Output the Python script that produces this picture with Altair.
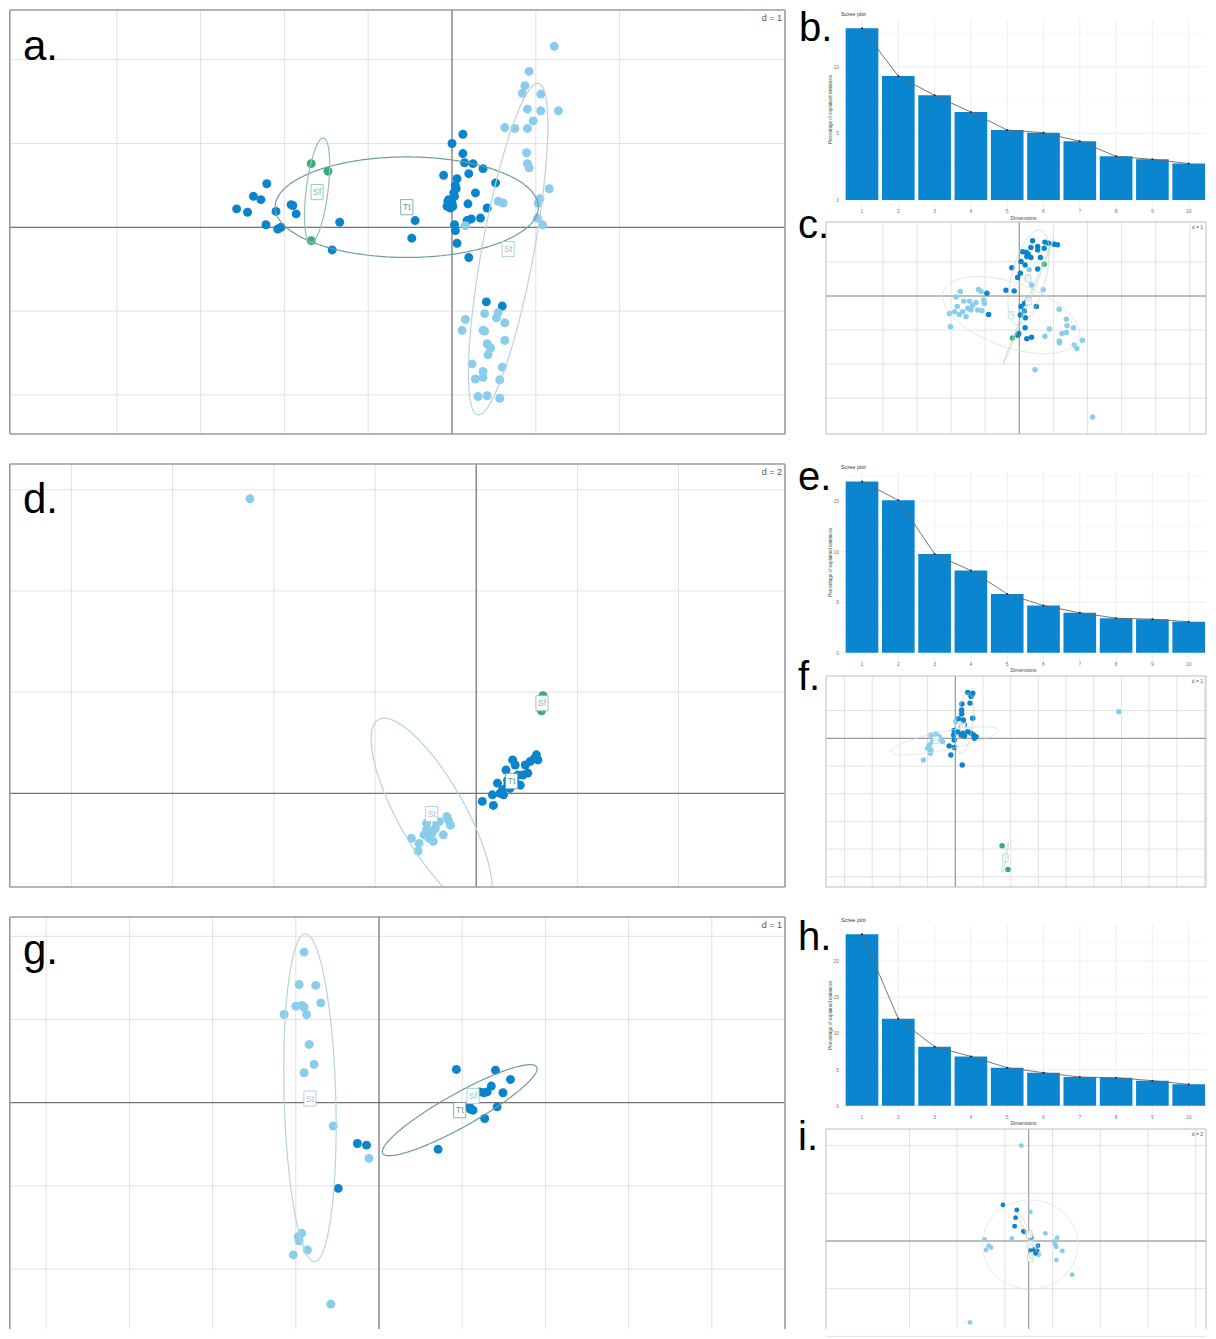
import numpy as np
import pandas as pd
import altair as alt

FONT = "Liberation Sans"
DARK = "#0a84cc"
LIGHT = "#89cdec"
GREEN = "#35ad77"
TT_E = "#6f9c9e"
ST_E = "#b7d4db"
SF_E = "#92c2b0"
TT_L = "#6f9c9e"
ST_L = "#9fc7d2"
SF_L = "#86b8a4"
GRIDC = "#e2e2e2"
BAR = "#0a86d1"
BOX = "M-0.8,-1L0.8,-1L0.8,1L-0.8,1Z"
W, H = 1198, 1321   # drawing canvas (page pixels 8..1206, 8..1329)

# ---------------- panel a ----------------
A_TT_X = [-2.57, -2.44, -2.37, -2.28, -2.21, -2.10, -2.22, -2.08, -2.04, -1.92, -1.90, -1.86, -1.34, -1.43,
          -0.44, -0.48, 0.00, 0.13, 0.13, 0.15, 0.25, 0.37, 0.20, -0.10, 0.06, 0.04, 0.02, 0.28, 0.52, -0.04,
          0.00, -0.02, 0.19, 0.42, 0.34, 0.23, 0.18, 0.03, 0.04, 0.06, 0.20, 0.41, 0.60, -0.06, 0.01, -0.05, 0.03, 0.05]
A_TT_Y = [0.22, 0.18, 0.37, 0.33, 0.52, 0.19, 0.03, -0.02, 0.00, 0.27, 0.26, 0.16, 0.06, -0.27,
          0.08, -0.13, 1.00, 1.11, 0.88, 0.77, 0.76, 0.70, 0.64, 0.62, 0.58, 0.50, 0.41, 0.41, 0.53, 0.33,
          0.29, 0.23, 0.28, 0.23, 0.11, 0.10, 0.08, 0.03, -0.04, -0.19, -0.36, -0.89, -0.94, 0.25, 0.25, 0.31, 0.37, 0.46]
A_ST_X = [1.22, 0.92, 0.87, 0.84, 1.06, 0.90, 1.06, 1.27, 0.97, 0.63, 0.75, 0.90, 0.89, 0.90, 0.92, 1.16, 1.05,
          1.03, 0.55, 0.61, 1.02, 1.08, 0.16,
          0.16, 0.12, 0.39, 0.55, 0.53, 0.63, 0.37, 0.39, 0.63, 0.42, 0.46, 0.43, 0.24, 0.60, 0.37, 0.28, 0.37,
          0.57, 0.31, 0.42, 0.57]
A_ST_Y = [2.16, 1.86, 1.69, 1.60, 1.59, 1.41, 1.39, 1.39, 1.27, 1.19, 1.18, 1.18, 0.89, 0.76, 0.71, 0.46, 0.34,
          0.29, 0.31, 0.29, 0.11, 0.03, 0.02,
          -1.10, -1.23, -1.03, -1.02, -1.08, -1.14, -1.23, -1.24, -1.35, -1.39, -1.44, -1.52, -1.63, -1.67, -1.72,
          -1.81, -1.79, -1.82, -2.02, -2.01, -2.04]
A_SF_X = [-1.68, -1.48, -1.68]
A_SF_Y = [0.76, 0.67, -0.16]
A_ELL = [(-0.54, 0.24, 1.57, 0.60, 0, TT_E), (-1.61, 0.44, 0.63, 0.13, 83, SF_E), (0.67, -0.26, 2.01, 0.31, 79.6, ST_E)]
A_LAB = [("Tt", -0.54, 0.24, TT_L), ("Sf", -1.61, 0.42, SF_L), ("St", 0.67, -0.26, ST_L)]

# ---------------- panel d ----------------
D_ST_X = [-4.47, -1.28, -1.13, -1.15, -1.03, -0.98, -0.93, -0.88, -0.81, -0.78, -0.73, -0.65, -0.58, -0.55, -0.51, -0.85, -0.98, -0.83]
D_ST_Y = [5.82, -0.89, -0.99, -1.14, -0.82, -0.72, -0.89, -0.79, -0.69, -0.59, -0.56, -0.82, -0.46, -0.53, -0.63, -0.95, -0.59, -0.72]
D_TT_X = [0.12, 0.34, 0.32, 0.42, 0.47, 0.54, 0.59, 0.62, 0.67, 0.72, 0.77, 0.82, 0.92, 0.97, 1.02, 1.07, 1.15, 1.19, 1.22, 0.62, 0.52, 0.87, 0.77]
D_TT_Y = [-0.16, -0.24, -0.03, 0.20, 0.00, -0.03, 0.46, 0.26, 0.10, 0.66, 0.56, 0.36, 0.36, 0.56, 0.40, 0.63, 0.69, 0.76, 0.66, 0.16, 0.07, 0.16, 0.23]
D_SF_X = [1.32, 1.29]
D_SF_Y = [1.93, 1.63]
D_ELL = [(-0.88, -0.41, 2.14, 0.66, 119.4, ST_E), (1.30, 1.78, 0.16, 0.02, 90, SF_E)]
D_LAB = [("Sf", 1.30, 1.78, SF_L), ("Tt", 0.70, 0.24, TT_L), ("St", -0.88, -0.41, ST_L)]

# ---------------- panel g ----------------
G_ST_X = [-0.90, -0.96, -0.76, -1.00, -0.93, -0.90, -0.70, -1.14, -0.87, -0.84, -0.78, -0.90, -0.55, -0.12, -0.93, -0.97, -0.96, -0.86, -1.03, -0.58]
G_ST_Y = [1.81, 1.42, 1.41, 1.16, 1.17, 1.15, 1.20, 1.06, 1.06, 0.70, 0.46, 0.36, -0.28, -0.67, -1.57, -1.61, -1.66, -1.77, -1.83, -2.42]
G_TT_X = [0.93, 1.40, 1.58, 1.35, 1.30, 1.26, 1.49, 1.21, 1.09, 1.13, 1.42, 1.27, 0.71, -0.26, -0.15, -0.49, 1.10]
G_TT_Y = [0.40, 0.39, 0.28, 0.20, 0.13, 0.12, 0.12, 0.13, -0.05, -0.09, -0.05, -0.19, -0.56, -0.49, -0.51, -1.03, -0.08]
G_ELL = [(-0.83, 0.06, 1.97, 0.31, 91.6, ST_E), (0.97, -0.09, 1.06, 0.20, 29.3, TT_E)]
G_LAB = [("St", -0.83, 0.05, ST_L), ("Sf", 1.13, 0.08, ST_L), ("Tt", 0.97, -0.09, TT_L)]

# ---------------- panel c ----------------
C_TT_X = [0.39, 0.75, 0.86, 1.02, 1.12, 0.54, 0.34, 0.73, 0.54, 0.10, 0.20, 0.26, 0.22, 0.34, 0.62, 0.05, 0.17, -0.22,
          0.54, 0.03, -0.05, -0.39, -0.15, 0.24, 0.15, 0.05, 0.50, 0.15, 0.03, 0.18, -0.90, -0.95, 0.17, -0.02, -0.05, 0.22, 0.36]
C_TT_Y = [1.62, 1.58, 1.55, 1.52, 1.50, 1.45, 1.42, 1.40, 1.35, 1.30, 1.28, 1.23, 1.16, 1.13, 1.13, 1.01, 0.91, 0.83,
          0.79, 0.67, 0.54, 0.17, 0.15, -0.12, -0.22, -0.31, -0.31, -0.44, -0.56, -0.64, -0.54, 0.08, -0.93, -1.10, -1.15, -1.25, -1.21]
C_ST_X = [-1.73, -1.20, -1.12, -1.85, -1.63, -1.46, -1.27, -1.04, -1.02, -1.37, -1.51, -1.42, -1.22, -1.10, -1.82, -1.66,
          -2.05, -1.90, -1.76, -1.56, -2.02, 0.70, 0.29, 1.17, 1.38, 1.40, 1.25, 1.38, 1.59, 0.88, 0.75, 1.17, 1.18, 1.61,
          1.69, 1.85, 0.46, 2.15, 0.24, 0.36]
C_ST_Y = [0.13, 0.19, 0.13, -0.03, -0.15, -0.15, -0.19, -0.12, -0.22, -0.28, -0.36, -0.41, -0.41, -0.43, -0.31, -0.46,
          -0.51, -0.46, -0.54, -0.61, -0.90, 0.18, 0.77, -0.39, -0.68, -0.87, -1.10, -1.07, -0.93, -0.97, -1.18, -1.32,
          -1.37, -1.44, -1.54, -1.30, -2.16, -3.55, 0.52, 0.32]
C_SF_X = [0.73, -0.20]
C_SF_Y = [0.93, -1.23]
C_ELL = [(0.27, 0.54, 1.44, 0.50, 75.5, "#c4d2d2"), (-0.24, -0.56, 2.10, 0.94, 160.5, "#d3dfe1"), (0.27, -0.15, 1.97, 0.03, 68, "#a9dcbf")]
C_LAB = [("Tt", 0.26, 0.52, "#b9cccc"), ("Sf", 0.27, -0.15, "#b9dcc8"), ("St", -0.24, -0.56, "#c5dadf")]

# ---------------- panel f ----------------
F_TT_X = [0.45, 0.63, 0.57, 0.53, 0.24, 0.23, 0.23, 0.11, 0.29, 0.63, 0.33, -0.04, 0.08, 0.27, 0.45, 0.57, 0.66, 0.75,
          0.69, -0.06, 0.21, 0.33, -0.04, -0.22, -0.04, -0.16, 0.25]
F_TT_Y = [1.65, 1.63, 1.51, 1.27, 1.24, 1.02, 0.88, 0.71, 0.66, 0.72, 0.48, 0.28, 0.24, 0.18, 0.24, 0.18, 0.12, 0.06,
          0.00, 0.12, 0.12, 0.08, -0.06, -0.28, -0.33, -0.60, -0.96]
F_ST_X = [-0.88, -0.76, -0.64, -0.82, -0.94, -1.00, -0.88, -0.90, -1.15, -0.46, 5.90, 0.02, 0.21, -0.70, -0.58]
F_ST_Y = [0.12, 0.06, -0.06, -0.12, -0.24, -0.36, -0.42, -0.54, -0.78, -0.12, 0.96, 0.60, 0.42, 0.16, 0.06]
F_SF_X = [1.69, 1.90]
F_SF_Y = [-3.88, -4.74]
F_ELL = [(0.33, 0.54, 1.10, 0.30, 82, "#c4d2d2"), (-0.40, -0.09, 1.97, 0.33, 11.5, "#d3dfe1"), (1.80, -4.31, 0.55, 0.04, 78, "#a9dcbf")]
F_LAB = [("Tt", 0.27, 0.42, "#b9cccc"), ("St", -0.70, -0.06, "#c5dadf"), ("Sf", 1.81, -4.31, "#b9dcc8")]

# ---------------- panel i ----------------
I_ST_X = [-0.31, 0.07, 0.70, 1.19, 1.08, 1.12, 1.15, 1.41, 1.16, 1.82, -0.71, -1.86, -1.68, -1.58, -1.79, -2.46, -0.18, 0.41]
I_ST_Y = [4.00, 1.23, 0.32, 0.14, -0.03, -0.14, -0.24, -0.42, -0.80, -1.41, 0.11, 0.07, -0.20, -0.27, -0.38, -3.41, 0.36, -0.59]
I_TT_X = [-1.08, -0.50, -0.55, -0.59, -0.22, 0.11, 0.39, 0.10, 0.35, 0.28, 0.20]
I_TT_Y = [1.51, 1.30, 0.98, 0.62, 0.41, 0.15, -0.20, -0.38, -0.42, -0.52, -0.34]
I_ELL = [(0.06, -0.15, 2.0, 1.87, 0, "#d9e3e3"), (0.03, 0.27, 1.02, 0.10, 119, "#c4d2d2")]
I_LAB = [("Tt", 0.03, 0.27, "#b9cccc"), ("St", 0.06, -0.15, "#c5dadf"), ("Sf", 0.07, -0.70, "#b9dcc8")]

# ---------------- scree plots ----------------
DIMS = [1, 2, 3, 4, 5, 6, 7, 8, 9, 10]
B_VALS = [12.88, 9.30, 7.85, 6.60, 5.25, 5.05, 4.40, 3.28, 3.05, 2.73]
B_TICKS = [0, 5, 10]
E_VALS = [16.95, 15.10, 9.77, 8.13, 5.82, 4.67, 3.95, 3.42, 3.32, 3.06]
E_TICKS = [0, 5, 10, 15]
H_VALS = [23.73, 12.03, 8.16, 6.82, 5.25, 4.56, 3.96, 3.87, 3.46, 2.95]
H_TICKS = [0, 5, 10, 15, 20]

# scatter layout (page px): frame left, top, right, bottom, origin x, origin y, px per unit, bottom cut
GEO_A = (8.8, 10, 784, 434, 451, 227.3, 83.8, False)
GEO_D = (8.8, 464, 784, 887, 475.2, 793.3, 50.6, False)
GEO_G = (8.8, 917, 784, 1329, 378, 1102.7, 83.2, True)
GEO_C = (825, 222, 1205, 434, 1018.3, 296, 34.1, False)
GEO_F = (825, 676, 1205, 887, 954.3, 738.3, 27.7, False)
GEO_I = (825, 1129, 1205, 1329, 1027.7, 1241, 23.85, True)
# scree layout (page px): panel left, panel top, panel right, baseline, px per %, dim-1 centre, px per dim
GEO_B = (840, 19, 1205, 200, 13.33, 861, 36.3)
GEO_E = (840, 472, 1205, 652.7, 10.1, 861, 36.3)
GEO_H = (840, 925, 1205, 1105.7, 7.23, 861, 36.3)


def P(v):
    return v - 8


def ellipse_df(ells, fr):
    fx0, fx1, fyb, fyt = fr
    rows = []
    t = np.linspace(0, 2 * np.pi, 361)
    gid = 0
    for cx, cy, A, B, th, col in ells:
        r = np.deg2rad(th)
        ex = cx + A * np.cos(t) * np.cos(r) - B * np.sin(t) * np.sin(r)
        ey = cy + A * np.cos(t) * np.sin(r) + B * np.sin(t) * np.cos(r)
        inside = (ex >= fx0) & (ex <= fx1) & (ey >= fyb) & (ey <= fyt)
        prev = False
        for j in range(len(t)):
            if inside[j]:
                if not prev:
                    gid += 1
                rows.append({"x": float(ex[j]), "y": float(ey[j]), "g": gid, "o": j, "c": col})
            prev = bool(inside[j])
    return pd.DataFrame(rows)


def text_layer(txt, x, y, size, color="black", align="left", baseline="alphabetic", angle=0):
    return alt.Chart(pd.DataFrame({"t": [txt]})).mark_text(
        font=FONT, fontSize=size, color=color, align=align, baseline=baseline, angle=angle
    ).encode(x=alt.value(P(x)), y=alt.value(P(y)), text="t:N")


def scatter_panel(geo, groups, ells, labs, gx, gy, big, dtxt, letter, lpos, pt):
    left, top, right, bottom, x0, y0, ppu, cut = geo
    xs = alt.Scale(domain=[(8 - x0) / ppu, (8 + W - x0) / ppu], nice=False, zero=False)
    ys = alt.Scale(domain=[(y0 - 8 - H) / ppu, (y0 - 8) / ppu], nice=False, zero=False)
    fx0, fx1 = (left - x0) / ppu, (right - x0) / ppu
    fyt, fyb = (y0 - top) / ppu, (y0 - bottom) / ppu

    def X(f):
        return alt.X(f, type="quantitative", scale=xs, axis=None)

    def Y(f):
        return alt.Y(f, type="quantitative", scale=ys, axis=None)

    if big:
        ew, bs, fs, dfs, axc, lfs, fc, fw = 1.2, 230, 9, 9, "#5a5a5a", 42, "#9b9b9b", 1.6
    else:
        ew, bs, fs, dfs, axc, lfs, fc, fw = 0.8, 50, 4.5, 5, "#8a8a8a", 40, "#bdbdbd", 1.0
    vgrid = pd.DataFrame({"v": gx, "y1": fyb, "y2": fyt})
    hgrid = pd.DataFrame({"v": gy, "x1": fx0, "x2": fx1})
    vax = pd.DataFrame({"v": [0.0], "y1": fyb, "y2": fyt})
    hax = pd.DataFrame({"v": [0.0], "x1": fx0, "x2": fx1})
    segs = [(fx0, fx1, fyt, fyt), (fx0, fx0, fyb, fyt), (fx1, fx1, fyb, fyt)]
    if not cut:
        segs.append((fx0, fx1, fyb, fyb))
    frame = pd.DataFrame(segs, columns=["x1", "x2", "y1", "y2"])
    layers = [
        alt.Chart(pd.DataFrame({"x1": [fx0], "x2": [fx1], "y1": [fyb], "y2": [fyt]})).mark_rect(color="white").encode(
            x=X("x1"), x2="x2", y=Y("y1"), y2="y2"),
        alt.Chart(vgrid).mark_rule(color=GRIDC, strokeWidth=1).encode(x=X("v"), y=Y("y1"), y2="y2"),
        alt.Chart(hgrid).mark_rule(color=GRIDC, strokeWidth=1).encode(y=Y("v"), x=X("x1"), x2="x2"),
        alt.Chart(vax).mark_rule(color=axc, strokeWidth=1).encode(x=X("v"), y=Y("y1"), y2="y2"),
        alt.Chart(hax).mark_rule(color=axc, strokeWidth=1).encode(y=Y("v"), x=X("x1"), x2="x2"),
    ]
    pts = pd.concat([pd.DataFrame({"x": gxs, "y": gys, "c": col}) for gxs, gys, col in groups], ignore_index=True)
    layers.append(alt.Chart(pts).mark_circle(size=pt, opacity=1).encode(
        x=X("x"), y=Y("y"), color=alt.Color("c:N", scale=None)))
    layers.append(alt.Chart(ellipse_df(ells, (fx0, fx1, fyb, fyt))).mark_line(strokeWidth=ew).encode(
        x=X("x"), y=Y("y"), detail="g:N", order="o:Q", color=alt.Color("c:N", scale=None)))
    lab = pd.DataFrame(labs, columns=["t", "x", "y", "c"])
    layers.append(alt.Chart(lab).mark_point(shape=BOX, filled=True, size=bs, strokeWidth=0.8, opacity=1).encode(
        x=X("x"), y=Y("y"), color=alt.value("white"), stroke=alt.Stroke("c:N", scale=None)))
    layers.append(alt.Chart(lab).mark_text(font=FONT, fontSize=fs).encode(
        x=X("x"), y=Y("y"), text="t:N", color=alt.Color("c:N", scale=None)))
    layers.append(alt.Chart(frame).mark_rule(color=fc, strokeWidth=fw).encode(
        x=X("x1"), x2="x2", y=Y("y1"), y2="y2"))
    layers.append(text_layer(dtxt, right - 3, top + (8 if big else 5), dfs, color="#555", align="right",
                             baseline="middle"))
    layers.append(text_layer(letter, lpos[0], lpos[1], lfs))
    return alt.layer(*layers)


def scree_panel(geo, vals, ticks, letter, lpos):
    pleft, ptop, pright, base, ppy, x1, ppx = geo
    xs = alt.Scale(domain=[1 + (8 - x1) / ppx, 1 + (8 + W - x1) / ppx], nice=False, zero=False)
    ys = alt.Scale(domain=[-(8 + H - base) / ppy, (base - 8) / ppy], nice=False, zero=False)

    def X(f):
        return alt.X(f, type="quantitative", scale=xs, axis=None)

    def Y(f):
        return alt.Y(f, type="quantitative", scale=ys, axis=None)

    ymax = (base - ptop) / ppy
    ymin = -9 / ppy
    xl, xr = 1 + (pleft - x1) / ppx, 1 + (pright - x1) / ppx
    df = pd.DataFrame({"d": DIMS, "v": vals})
    df["lo"] = df["d"] - 0.45
    df["hi"] = df["d"] + 0.45
    df["z"] = 0.0
    df["y1"] = ymin
    df["y2"] = ymax
    df["lab"] = [str(d) for d in DIMS]
    step = ticks[1] - ticks[0]
    minor = [t + step / 2 for t in ticks if t + step / 2 <= ymax]
    tk = pd.DataFrame({"v": ticks, "lab": [str(t) for t in ticks], "x1": xl, "x2": xr})
    mn = pd.DataFrame({"v": minor, "x1": xl, "x2": xr})
    layers = [
        alt.Chart(df).mark_rule(color="#ebebeb", strokeWidth=0.8).encode(x=X("d"), y=Y("y1"), y2="y2"),
        alt.Chart(mn).mark_rule(color="#f3f3f3", strokeWidth=0.6).encode(y=Y("v"), x=X("x1"), x2="x2"),
        alt.Chart(tk).mark_rule(color="#ebebeb", strokeWidth=0.8).encode(y=Y("v"), x=X("x1"), x2="x2"),
        alt.Chart(df).mark_bar(color=BAR).encode(x=X("lo"), x2="hi", y=Y("v"), y2="z"),
        alt.Chart(df).mark_line(color="#666666", strokeWidth=0.9).encode(x=X("d"), y=Y("v")),
        alt.Chart(df).mark_circle(size=4, color="#222222", opacity=1).encode(x=X("d"), y=Y("v")),
        alt.Chart(tk).mark_text(font=FONT, fontSize=5, color="#777", align="right", baseline="middle").encode(
            x=alt.value(P(pleft - 2)), y=Y("v"), text="lab:N"),
        alt.Chart(df).mark_text(font=FONT, fontSize=5, color="#777", baseline="middle").encode(
            x=X("d"), y=alt.value(P(base + 11)), text="lab:N"),
        text_layer("Dimensions", (pleft + pright) / 2, base + 17.5, 5, color="#444", align="center", baseline="middle"),
        text_layer("Percentage of explained variances", pleft - 10, (ptop + base) / 2, 4.5, color="#444",
                   align="center", baseline="middle", angle=270),
        text_layer("Scree plot", pleft, ptop - 5, 5.5, color="#333", baseline="middle"),
        text_layer(letter, lpos[0], lpos[1], 40),
    ]
    return alt.layer(*layers)


a = scatter_panel(GEO_A, [(A_TT_X, A_TT_Y, DARK), (A_ST_X, A_ST_Y, LIGHT), (A_SF_X, A_SF_Y, GREEN)],
                  A_ELL, A_LAB, list(range(-4, 3)), list(range(-2, 3)), True, "d = 1", "a.", (22, 60), 80)
d = scatter_panel(GEO_D, [(D_ST_X, D_ST_Y, LIGHT), (D_TT_X, D_TT_Y, DARK), (D_SF_X, D_SF_Y, GREEN)],
                  D_ELL, D_LAB, list(range(-8, 5, 2)), list(range(0, 7, 2)), True, "d = 2", "d.", (22, 513), 80)
g = scatter_panel(GEO_G, [(G_ST_X, G_ST_Y, LIGHT), (G_TT_X, G_TT_Y, DARK)],
                  G_ELL, G_LAB, list(range(-4, 5)), list(range(-2, 3)), True, "d = 1", "g.", (22, 964), 80)
c = scatter_panel(GEO_C, [(C_ST_X, C_ST_Y, LIGHT), (C_TT_X, C_TT_Y, DARK), (C_SF_X, C_SF_Y, GREEN)],
                  C_ELL, C_LAB, list(range(-4, 6)), list(range(-3, 2)), False, "d = 1", "c.", (797, 238), 30)
f = scatter_panel(GEO_F, [(F_ST_X, F_ST_Y, LIGHT), (F_TT_X, F_TT_Y, DARK), (F_SF_X, F_SF_Y, GREEN)],
                  F_ELL, F_LAB, list(range(-4, 10)), list(range(-5, 2)), False, "d = 1", "f.", (797, 690), 30)
i = scatter_panel(GEO_I, [(I_ST_X, I_ST_Y, LIGHT), (I_TT_X, I_TT_Y, DARK)],
                  I_ELL, I_LAB, list(range(-5, 8, 2)), list(range(-4, 5, 2)), False, "d = 2", "i.", (797, 1150), 24)
b = scree_panel(GEO_B, B_VALS, B_TICKS, "b.", (798, 41))
e = scree_panel(GEO_E, E_VALS, E_TICKS, "e.", (797, 490))
h = scree_panel(GEO_H, H_VALS, H_TICKS, "h.", (797, 950))

chart = alt.layer(a, d, g, b, c, e, f, h, i).resolve_scale(
    x="independent", y="independent"
).properties(
    width=W, height=H, padding=0, background="white", view=alt.ViewBackground(strokeOpacity=0)
).configure(font=FONT)

chart.save("out.html", embed_options={"renderer": "svg", "actions": False})
